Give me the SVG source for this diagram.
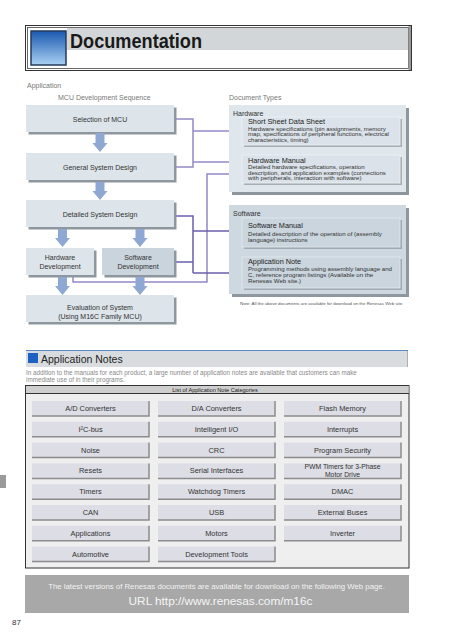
<svg xmlns="http://www.w3.org/2000/svg" width="452" height="640" viewBox="0 0 452 640">
<defs>
<linearGradient id="blueSq" x1="0" y1="0" x2="0" y2="1">
<stop offset="0" stop-color="#1a58b0"/>
<stop offset="1" stop-color="#a9d0f2"/>
</linearGradient>
<marker id="ahL" markerWidth="8" markerHeight="8" refX="7" refY="4" orient="auto" markerUnits="userSpaceOnUse">
<path d="M0,0.5 L7,4 L0,7.5 Z" fill="#9389c6"/>
</marker>
<marker id="ahD" markerWidth="8" markerHeight="8" refX="7" refY="4" orient="auto" markerUnits="userSpaceOnUse">
<path d="M0,0.5 L7,4 L0,7.5 Z" fill="#6a5fae"/>
</marker>
<style>
text{font-family:"Liberation Sans",Arial,sans-serif;}
.seq{fill:#dde4ea;}
.seq2{fill:#c9d4dc;}
.shd{fill:#8e979e;}
.t7{font-size:7px;fill:#333;text-anchor:middle;}
.lbl{font-size:7px;fill:#777;}
.pnl{fill:#dfe6ec;}
.pnl2{fill:#cdd8e0;}
.inb{fill:#dbe2e9;stroke:#eef2f5;stroke-width:0.8;}
.inb2{fill:#cad5de;stroke:#e2e9ee;stroke-width:0.8;}
.ttl{font-size:7.3px;fill:#222;}
.dsc{font-size:6.1px;fill:#333;}
.barrow{fill:#8ea7d3;}
.cl{fill:none;stroke:#9389c6;stroke-width:1.5;}
.cd{fill:none;stroke:#6a5fae;stroke-width:1.5;}
.cell{fill:#dcdde5;}
.cellsh{fill:none;stroke:#8c8c8c;stroke-width:1.5;}
.ct{font-size:7.4px;fill:#333;text-anchor:middle;}
.ct2{font-size:6.8px;fill:#333;text-anchor:middle;}
</style>
</defs>
<rect x="0" y="0" width="452" height="640" fill="#ffffff"/>

<!-- Header -->
<g id="header">
<rect x="25.5" y="25.5" width="386" height="45" fill="#fff" stroke="#333" stroke-width="1"/>
<rect x="27.5" y="27.5" width="381" height="41" fill="#fff" stroke="#444" stroke-width="0.8"/>
<rect x="67" y="28" width="341" height="22" fill="#d3d6d8"/>
<rect x="408.5" y="26" width="2.5" height="44" fill="#9a9a9a"/>
<rect x="31" y="31" width="35" height="34" fill="url(#blueSq)" stroke="#233a5c" stroke-width="1.5"/>
<text x="70" y="48" font-size="20" font-weight="bold" fill="#1a1a1a" textLength="132" lengthAdjust="spacingAndGlyphs">Documentation</text>
</g>

<text class="lbl" x="27" y="88">Application</text>
<text class="lbl" x="58" y="100">MCU Development Sequence</text>
<text class="lbl" x="229" y="100">Document Types</text>

<!-- Connectors -->
<g id="connectors">
<path class="cl" d="M176 119 H193 V167 H176"/>
<path class="cl" d="M193 131 H240" marker-end="url(#ahL)"/>
<path class="cl" d="M193 162 H240" marker-end="url(#ahL)"/>
<path class="cl" d="M73 276 V282 H207 V174 H240" marker-end="url(#ahL)"/>
<path class="cd" d="M176 216 H193 V273"/>
<path class="cd" d="M176 262 H193"/>
<path class="cd" d="M193 231 H240" marker-end="url(#ahD)"/>
<path class="cd" d="M193 273 H240" marker-end="url(#ahD)"/>
</g>

<!-- Left sequence -->
<g id="sel">
<rect class="shd" x="28.5" y="107.5" width="148" height="27"/>
<rect class="seq" x="26" y="105" width="148" height="27"/>
<text class="t7" x="100" y="121.5">Selection of MCU</text>
</g>
<g id="arrow1"><path class="barrow" d="M95.5 133 H104.5 V143 H107.5 L100 152 L92.5 143 H95.5 Z"/></g>
<g id="gen">
<rect class="shd" x="28.5" y="155.5" width="148" height="27"/>
<rect class="seq" x="26" y="153" width="148" height="27"/>
<text class="t7" x="100" y="169.5">General System Design</text>
</g>
<g id="arrow2"><path class="barrow" d="M95.5 182 H104.5 V191 H107.5 L100 200 L92.5 191 H95.5 Z"/></g>
<g id="det">
<rect class="shd" x="28.5" y="202.5" width="148" height="27"/>
<rect class="seq" x="26" y="200" width="148" height="27"/>
<text class="t7" x="100" y="216.5">Detailed System Design</text>
</g>
<g id="arrow3"><path class="barrow" d="M58 229 H67 V238 H70 L62.5 247 L55 238 H58 Z"/></g>
<g id="arrow4"><path class="barrow" d="M135.5 229 H144.5 V238 H147.5 L140 247 L132.5 238 H135.5 Z"/></g>
<g id="hwdev">
<rect class="shd" x="28.5" y="250.5" width="68" height="27"/>
<rect class="seq" x="26" y="248" width="68" height="27"/>
<text class="t7" x="60" y="259.5">Hardware</text>
<text class="t7" x="60" y="268.5">Development</text>
</g>
<g id="swdev">
<rect class="shd" x="104.5" y="250.5" width="72" height="27"/>
<rect class="seq2" x="102" y="248" width="72" height="27"/>
<text class="t7" x="138" y="259.5">Software</text>
<text class="t7" x="138" y="268.5">Development</text>
</g>
<g id="arrow5"><path class="barrow" d="M58 277 H67 V286 H70 L62.5 295 L55 286 H58 Z"/></g>
<g id="arrow6"><path class="barrow" d="M135.5 277 H144.5 V286 H147.5 L140 295 L132.5 286 H135.5 Z"/></g>
<g id="eval">
<rect class="shd" x="28.5" y="297.5" width="148" height="27"/>
<rect class="seq" x="26" y="295" width="148" height="27"/>
<text class="t7" x="100" y="309.5">Evaluation of System</text>
<text class="t7" x="100" y="319">(Using M16C Family MCU)</text>
</g>

<!-- Hardware panel -->
<g id="hwpanel">
<rect class="shd" x="232" y="108" width="177" height="87"/>
<rect class="pnl" x="229" y="105" width="177" height="87"/>
<text x="233" y="115.5" font-size="7" fill="#333">Hardware</text>
</g>
<g id="ssds">
<rect class="shd" x="244" y="119" width="158" height="28" opacity="0.7"/>
<rect class="inb" x="242" y="117" width="158" height="28"/>
<text class="ttl" x="248" y="124">Short Sheet Data Sheet</text>
<text class="dsc" x="248" y="130.8">Hardware specifications (pin assignments, memory</text>
<text class="dsc" x="248" y="136.3">map, specifications of peripheral functions, electrical</text>
<text class="dsc" x="248" y="141.8">characteristics, timing)</text>
</g>
<g id="hwman">
<rect class="shd" x="244" y="157" width="158" height="28" opacity="0.7"/>
<rect class="inb" x="242" y="155" width="158" height="28"/>
<text class="ttl" x="248" y="162.6">Hardware Manual</text>
<text class="dsc" x="248" y="169.4">Detailed hardware specifications, operation</text>
<text class="dsc" x="248" y="174.9">description, and application examples (connections</text>
<text class="dsc" x="248" y="180.4">with peripherals, interaction with software)</text>
</g>

<!-- Software panel -->
<g id="swpanel">
<rect class="shd" x="232" y="208" width="177" height="89"/>
<rect class="pnl2" x="229" y="205" width="177" height="89"/>
<text x="233" y="215.5" font-size="7" fill="#333">Software</text>
</g>
<g id="swman">
<rect class="shd" x="244" y="220" width="158" height="29" opacity="0.7"/>
<rect class="inb2" x="242" y="218" width="158" height="29"/>
<text class="ttl" x="248" y="228">Software Manual</text>
<text class="dsc" x="248" y="235.5">Detailed description of the operation of (assembly</text>
<text class="dsc" x="248" y="241.5">language) instructions</text>
</g>
<g id="appnote">
<rect class="shd" x="244" y="259" width="158" height="31" opacity="0.7"/>
<rect class="inb2" x="242" y="257" width="158" height="31"/>
<text class="ttl" x="248" y="264.4">Application Note</text>
<text class="dsc" x="248" y="271.3">Programming methods using assembly language and</text>
<text class="dsc" x="248" y="277.3">C, reference program listings (Available on the</text>
<text class="dsc" x="248" y="283.3">Renesas Web site.)</text>
</g>
<text x="240" y="304.5" font-size="4.4" fill="#555">Note: All the above documents are available for download on the Renesas Web site.</text>

<!-- Application Notes -->
<g id="appnotes-header">
<rect x="26" y="350" width="382" height="17" fill="#d8dcdf"/>
<line x1="26" y1="350.5" x2="408" y2="350.5" stroke="#5a8ac4" stroke-width="1"/>
<line x1="407.5" y1="351" x2="407.5" y2="367" stroke="#aab0b5" stroke-width="1"/>
<rect x="28" y="353" width="10" height="10" fill="#1d62c2"/>
<text x="41" y="363" font-size="10.5" fill="#222">Application Notes</text>
</g>
<text x="26" y="375" font-size="6.3" fill="#888">In addition to the manuals for each product, a large number of application notes are available that customers can make</text>
<text x="26" y="381.5" font-size="6.3" fill="#888">immediate use of in their programs.</text>

<g id="table">
<rect x="25.5" y="385.5" width="383.5" height="182.5" fill="#efefef" stroke="#333" stroke-width="1"/>
<rect x="26" y="386" width="382.5" height="7.5" fill="#cfcfcf"/>
<line x1="25.5" y1="393.5" x2="409" y2="393.5" stroke="#333" stroke-width="1"/>
<text x="215" y="391.6" font-size="5.6" fill="#222" text-anchor="middle">List of Application Note Categories</text>
</g>

<g id="cell-ad"><rect class="cell" x="32" y="401" width="117" height="15"/><path class="cellsh" d="M149 401 V416 H32"/><text class="ct" x="90.5" y="411">A/D Converters</text></g>
<g id="cell-da"><rect class="cell" x="158" y="401" width="117" height="15"/><path class="cellsh" d="M275 401 V416 H158"/><text class="ct" x="216.5" y="411">D/A Converters</text></g>
<g id="cell-flash"><rect class="cell" x="284" y="401" width="117" height="15"/><path class="cellsh" d="M401 401 V416 H284"/><text class="ct" x="342.5" y="411">Flash Memory</text></g>

<g id="cell-i2c"><rect class="cell" x="32" y="421.8" width="117" height="15"/><path class="cellsh" d="M149 421.8 V436.8 H32"/><text class="ct" x="90.5" y="431.8">I²C-bus</text></g>
<g id="cell-iio"><rect class="cell" x="158" y="421.8" width="117" height="15"/><path class="cellsh" d="M275 421.8 V436.8 H158"/><text class="ct" x="216.5" y="431.8">Intelligent I/O</text></g>
<g id="cell-int"><rect class="cell" x="284" y="421.8" width="117" height="15"/><path class="cellsh" d="M401 421.8 V436.8 H284"/><text class="ct" x="342.5" y="431.8">Interrupts</text></g>

<g id="cell-noise"><rect class="cell" x="32" y="442.6" width="117" height="15"/><path class="cellsh" d="M149 442.6 V457.6 H32"/><text class="ct" x="90.5" y="452.6">Noise</text></g>
<g id="cell-crc"><rect class="cell" x="158" y="442.6" width="117" height="15"/><path class="cellsh" d="M275 442.6 V457.6 H158"/><text class="ct" x="216.5" y="452.6">CRC</text></g>
<g id="cell-psec"><rect class="cell" x="284" y="442.6" width="117" height="15"/><path class="cellsh" d="M401 442.6 V457.6 H284"/><text class="ct" x="342.5" y="452.6">Program Security</text></g>

<g id="cell-resets"><rect class="cell" x="32" y="463.4" width="117" height="15"/><path class="cellsh" d="M149 463.4 V478.4 H32"/><text class="ct" x="90.5" y="473.4">Resets</text></g>
<g id="cell-serial"><rect class="cell" x="158" y="463.4" width="117" height="15"/><path class="cellsh" d="M275 463.4 V478.4 H158"/><text class="ct" x="216.5" y="473.4">Serial Interfaces</text></g>
<g id="cell-pwm"><rect class="cell" x="284" y="463.4" width="117" height="15"/><path class="cellsh" d="M401 463.4 V478.4 H284"/><text class="ct2" x="342.5" y="469.4">PWM Timers for 3-Phase</text><text class="ct2" x="342.5" y="476.6">Motor Drive</text></g>

<g id="cell-timers"><rect class="cell" x="32" y="484.2" width="117" height="15"/><path class="cellsh" d="M149 484.2 V499.2 H32"/><text class="ct" x="90.5" y="494.2">Timers</text></g>
<g id="cell-wdt"><rect class="cell" x="158" y="484.2" width="117" height="15"/><path class="cellsh" d="M275 484.2 V499.2 H158"/><text class="ct" x="216.5" y="494.2">Watchdog Timers</text></g>
<g id="cell-dmac"><rect class="cell" x="284" y="484.2" width="117" height="15"/><path class="cellsh" d="M401 484.2 V499.2 H284"/><text class="ct" x="342.5" y="494.2">DMAC</text></g>

<g id="cell-can"><rect class="cell" x="32" y="505" width="117" height="15"/><path class="cellsh" d="M149 505 V520 H32"/><text class="ct" x="90.5" y="515">CAN</text></g>
<g id="cell-usb"><rect class="cell" x="158" y="505" width="117" height="15"/><path class="cellsh" d="M275 505 V520 H158"/><text class="ct" x="216.5" y="515">USB</text></g>
<g id="cell-extbus"><rect class="cell" x="284" y="505" width="117" height="15"/><path class="cellsh" d="M401 505 V520 H284"/><text class="ct" x="342.5" y="515">External Buses</text></g>

<g id="cell-apps"><rect class="cell" x="32" y="525.8" width="117" height="15"/><path class="cellsh" d="M149 525.8 V540.8 H32"/><text class="ct" x="90.5" y="535.8">Applications</text></g>
<g id="cell-motors"><rect class="cell" x="158" y="525.8" width="117" height="15"/><path class="cellsh" d="M275 525.8 V540.8 H158"/><text class="ct" x="216.5" y="535.8">Motors</text></g>
<g id="cell-inverter"><rect class="cell" x="284" y="525.8" width="117" height="15"/><path class="cellsh" d="M401 525.8 V540.8 H284"/><text class="ct" x="342.5" y="535.8">Inverter</text></g>

<g id="cell-auto"><rect class="cell" x="32" y="546.6" width="117" height="15"/><path class="cellsh" d="M149 546.6 V561.6 H32"/><text class="ct" x="90.5" y="556.6">Automotive</text></g>
<g id="cell-devtools"><rect class="cell" x="158" y="546.6" width="117" height="15"/><path class="cellsh" d="M275 546.6 V561.6 H158"/><text class="ct" x="216.5" y="556.6">Development Tools</text></g>

<g id="footer">
<rect x="25" y="575" width="384" height="38" fill="#a8a8a8"/>
<text x="216.5" y="588.5" font-size="7.8" fill="#f2f2f2" text-anchor="middle">The latest versions of Renesas documents are available for download on the following Web page.</text>
<text x="220.5" y="604.5" font-size="11.8" fill="#f5f5f5" text-anchor="middle">URL http://www.renesas.com/m16c</text>
</g>

<rect x="0" y="475" width="6" height="13" fill="#9a9a9a"/>
<text x="12" y="625" font-size="8" fill="#333">87</text>
</svg>
